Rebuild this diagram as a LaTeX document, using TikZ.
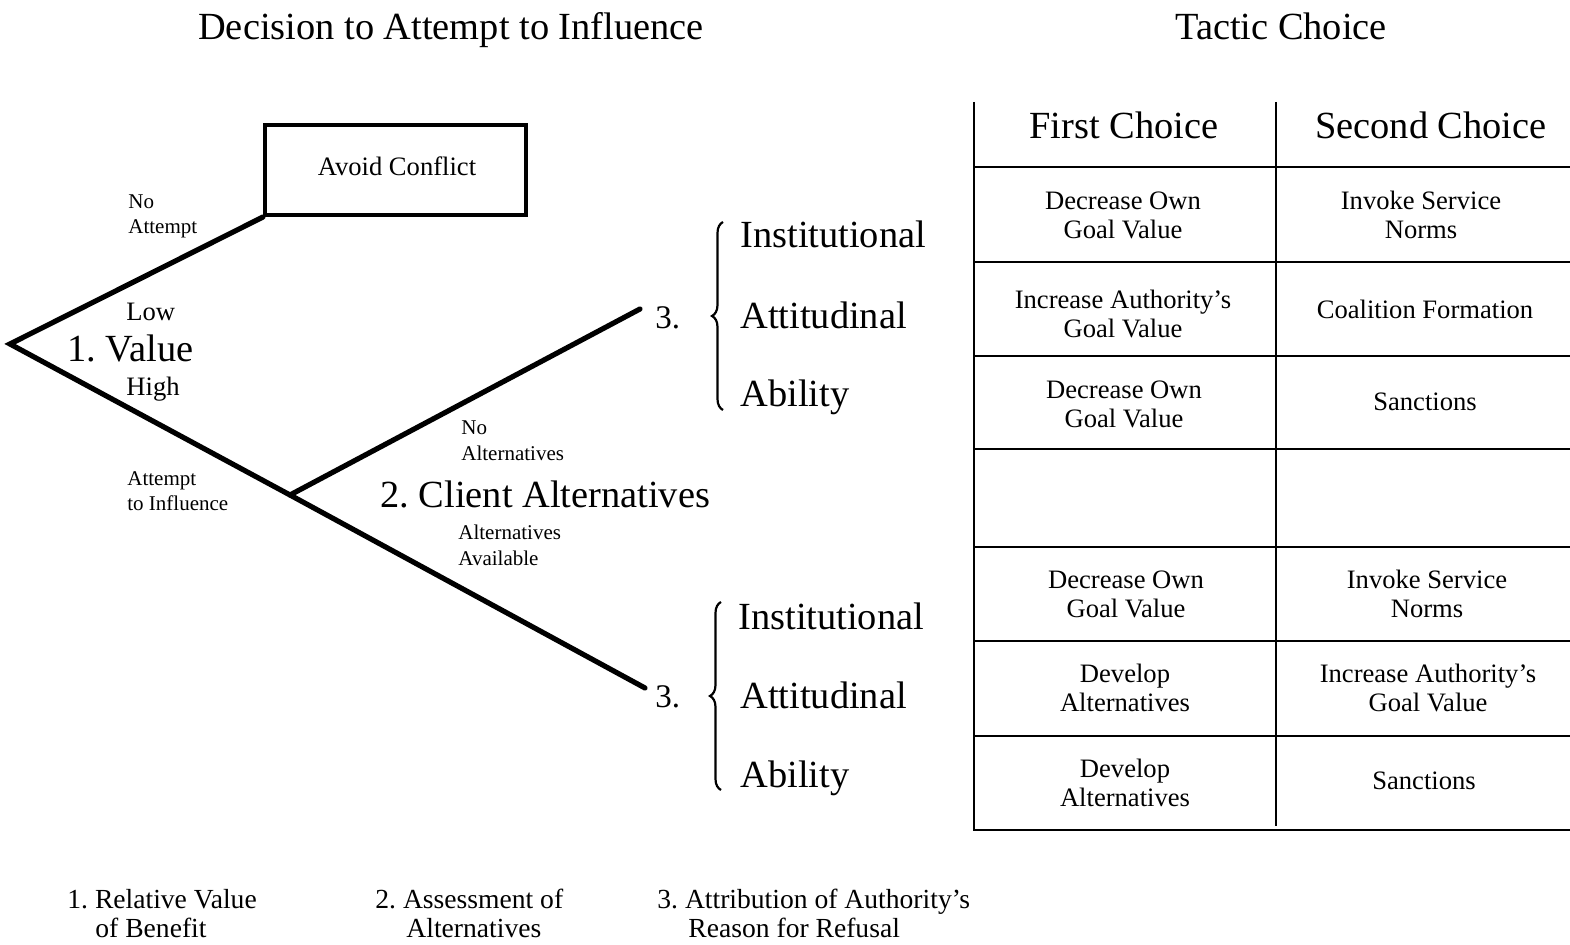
\documentclass[tikz,border=0pt]{standalone}
\usepackage{fontspec}
\setmainfont{Liberation Serif}
\usetikzlibrary{decorations.pathreplacing}
\begin{document}
\begin{tikzpicture}[x=0.5pt,y=-0.5pt,
  tree/.style={line width=2.6pt, line cap=round, line join=miter},
  grid/.style={line width=1.2pt},
  bracestyle/.style={line width=1.1pt, decorate, decoration={brace, amplitude=5.5pt}},
  txt/.style={inner sep=0pt, anchor=base west, yshift=-1.3pt},
  ctxt/.style={inner sep=0pt, anchor=base, yshift=-1.3pt},
  fbig/.style={font=\fontsize{19.2}{22}\selectfont},
  fmid/.style={font=\fontsize{13.3}{16}\selectfont},
  ffoot/.style={font=\fontsize{13.8}{16}\selectfont},
  fsmall/.style={font=\fontsize{10.5}{12}\selectfont},
  fnum/.style={font=\fontsize{16.5}{20}\selectfont},
]
\useasboundingbox (0,0) rectangle (1570,945);

% titles
\node[ctxt,fbig] (title1) at (451,37) {Decision to Attempt to Influence};
\node[ctxt,fbig] (title2) at (1281,37) {Tactic Choice};

% avoid conflict box
\node[draw, line width=2pt, minimum width=130.5pt, minimum height=45pt, inner sep=0pt] (avoid) at (395.5,170) {};
\node[ctxt,fmid] (avoidtxt) at (397,173) {Avoid Conflict};

% tree
\coordinate (root) at (10,344);
\coordinate (fork) at (290,495);
\coordinate (up3) at (640,309);
\coordinate (lo3) at (645,688);
\draw[tree] (avoid.south west) -- (root) -- (fork) -- (lo3);
\draw[tree] (fork) -- (up3);

% tree labels
\node[txt,fsmall] (noatt1) at (128,206) {No};
\node[txt,fsmall] (noatt2) at (128,231) {Attempt};
\node[txt,fmid] (low) at (126,318) {Low};
\node[txt,fbig] (value) at (67,359) {1.\ Value};
\node[txt,fmid] (high) at (126,393) {High};
\node[txt,fsmall] (att1) at (127,483) {Attempt};
\node[txt,fsmall] (att2) at (127,508) {to Influence};
\node[txt,fsmall] (noalt1) at (461,432) {No};
\node[txt,fsmall] (noalt2) at (461,458) {Alternatives};
\node[txt,fbig] (client) at (380,505) {2.\ Client Alternatives};
\node[txt,fsmall] (alt1) at (458,537) {Alternatives};
\node[txt,fsmall] (alt2) at (458,563) {Available};

% upper attribution
\node[txt,fnum] (n3a) at (655,326) {3.};
\draw[bracestyle] (723,410) -- (723,222);
\node[txt,fbig] (insta) at (740,245) {Institutional};
\node[txt,fbig] (atta) at (740,326) {Attitudinal};
\node[txt,fbig] (abia) at (740,404) {Ability};

% lower attribution
\node[txt,fnum] (n3b) at (655,705) {3.};
\draw[bracestyle] (721,790) -- (721,602);
\node[txt,fbig] (instb) at (738,627) {Institutional};
\node[txt,fbig] (attb) at (740,706) {Attitudinal};
\node[txt,fbig] (abib) at (740,785) {Ability};

% table
\draw[grid] (974,102) -- (974,831);
\draw[grid] (1276,102) -- (1276,826);
\foreach \y in {167,262,356,449,547,641,736,830}
  \draw[grid] (974,\y) -- (1570,\y);

\node[ctxt,fbig] (h1) at (1124,136) {First Choice};
\node[ctxt,fbig] (h2) at (1431,136) {Second Choice};

\node[ctxt,fmid] (c11a) at (1123,207) {Decrease Own};
\node[ctxt,fmid] (c11b) at (1123,236) {Goal Value};
\node[ctxt,fmid] (c12a) at (1421,207) {Invoke Service};
\node[ctxt,fmid] (c12b) at (1421,236) {Norms};

\node[ctxt,fmid] (c21a) at (1123,306) {Increase Authority's};
\node[ctxt,fmid] (c21b) at (1123,335) {Goal Value};
\node[ctxt,fmid] (c22) at (1425,316) {Coalition Formation};

\node[ctxt,fmid] (c31a) at (1124,396) {Decrease Own};
\node[ctxt,fmid] (c31b) at (1124,425) {Goal Value};
\node[ctxt,fmid] (c32) at (1425,408) {Sanctions};

\node[ctxt,fmid] (c51a) at (1126,586) {Decrease Own};
\node[ctxt,fmid] (c51b) at (1126,615) {Goal Value};
\node[ctxt,fmid] (c52a) at (1427,586) {Invoke Service};
\node[ctxt,fmid] (c52b) at (1427,615) {Norms};

\node[ctxt,fmid] (c61a) at (1125,680) {Develop};
\node[ctxt,fmid] (c61b) at (1125,709) {Alternatives};
\node[ctxt,fmid] (c62a) at (1428,680) {Increase Authority's};
\node[ctxt,fmid] (c62b) at (1428,709) {Goal Value};

\node[ctxt,fmid] (c71a) at (1125,775) {Develop};
\node[ctxt,fmid] (c71b) at (1125,804) {Alternatives};
\node[ctxt,fmid] (c72) at (1424,787) {Sanctions};

% footer
\node[txt,ffoot] (f1a) at (67,906) {1.\ Relative Value};
\node[txt,ffoot] (f1b) at (95,935) {of Benefit};
\node[txt,ffoot] (f2a) at (375,906) {2.\ Assessment of};
\node[txt,ffoot] (f2b) at (406,935) {Alternatives};
\node[txt,ffoot] (f3a) at (657,906) {3.\ Attribution of Authority's};
\node[txt,ffoot] (f3b) at (688,935) {Reason for Refusal};
\end{tikzpicture}
\end{document}
